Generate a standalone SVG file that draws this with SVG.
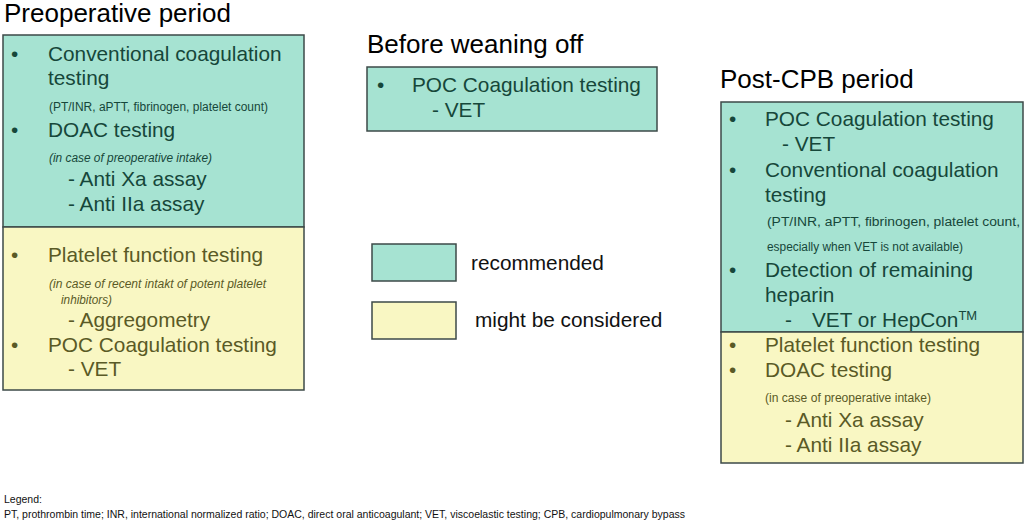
<svg xmlns="http://www.w3.org/2000/svg" width="1026" height="524" viewBox="0 0 1026 524">
<style>
text{font-family:"Liberation Sans",Arial,sans-serif}
.title{font-size:26px;fill:#000}
.rec{fill:#a6e3d2;stroke:#3d4a48;stroke-width:1.5}
.may{fill:#f9f7c3;stroke:#3d4a48;stroke-width:1.5}
.tg{font-size:20.8px;fill:#16473a}
.ty{font-size:20.8px;fill:#5a5a26}
.sg{font-size:12px;fill:#16473a}
.sy{font-size:12px;fill:#5a5a26}
.it{font-style:italic}
.leg{font-size:20.8px;fill:#111}
.foot{font-size:10.5px;fill:#111}
</style>
<rect width="1026" height="524" fill="#fff"/>
<g id="connectors"/>
<g id="preoperative">
<text class="title" x="4" y="22">Preoperative period</text>
<rect class="rec" x="3" y="35" width="301" height="192"/>
<rect class="may" x="3" y="227" width="301" height="163"/>
<text class="tg" x="11" y="61">•</text>
<text class="tg" x="48" y="61">Conventional coagulation</text>
<text class="tg" x="48" y="85">testing</text>
<text class="sg" x="49" y="111" textLength="219" lengthAdjust="spacingAndGlyphs">(PT/INR, aPTT, fibrinogen, platelet count)</text>
<text class="tg" x="11" y="137">•</text>
<text class="tg" x="48" y="137">DOAC testing</text>
<text class="sg it" x="49" y="162" textLength="163" lengthAdjust="spacingAndGlyphs">(in case of preoperative intake)</text>
<text class="tg" x="68" y="186">- Anti Xa assay</text>
<text class="tg" x="68" y="211">- Anti IIa assay</text>
<text class="ty" x="11" y="262">•</text>
<text class="ty" x="48" y="262">Platelet function testing</text>
<text class="sy it" x="49" y="288" textLength="217" lengthAdjust="spacingAndGlyphs">(in case of recent intakt of potent platelet</text>
<text class="sy it" x="61" y="304" textLength="51" lengthAdjust="spacingAndGlyphs">inhibitors)</text>
<text class="ty" x="68" y="327">- Aggregometry</text>
<text class="ty" x="11" y="352">•</text>
<text class="ty" x="48" y="352">POC Coagulation testing</text>
<text class="ty" x="68" y="376">- VET</text>
</g>
<g id="before-weaning">
<text class="title" x="367" y="53">Before weaning off</text>
<rect class="rec" x="367" y="67" width="290" height="64"/>
<text class="tg" x="377" y="92">•</text>
<text class="tg" x="412" y="92">POC Coagulation testing</text>
<text class="tg" x="432" y="117">- VET</text>
</g>
<g id="legend-recommended">
<rect class="rec" x="372" y="244" width="84" height="37"/>
<text class="leg" x="471" y="270">recommended</text>
</g>
<g id="legend-considered">
<rect class="may" x="372" y="302" width="84" height="37"/>
<text class="leg" x="475" y="327">might be considered</text>
</g>
<g id="post-cpb">
<text class="title" x="720" y="88">Post-CPB period</text>
<rect class="rec" x="721" y="102" width="302" height="230"/>
<rect class="may" x="721" y="332" width="302" height="131"/>
<text class="tg" x="729" y="126">•</text>
<text class="tg" x="765" y="126">POC Coagulation testing</text>
<text class="tg" x="782" y="151">- VET</text>
<text class="tg" x="729" y="177">•</text>
<text class="tg" x="765" y="177">Conventional coagulation</text>
<text class="tg" x="765" y="202">testing</text>
<text class="sg" x="767" y="226" textLength="253" lengthAdjust="spacingAndGlyphs">(PT/INR, aPTT, fibrinogen, platelet count,</text>
<text class="sg" x="767" y="251" textLength="196" lengthAdjust="spacingAndGlyphs">especially when VET is not available)</text>
<text class="tg" x="729" y="277">•</text>
<text class="tg" x="765" y="277">Detection of remaining</text>
<text class="tg" x="765" y="302">heparin</text>
<text class="tg" x="785" y="327">-</text>
<text class="tg" x="812" y="327">VET or HepCon<tspan font-size="13" dy="-7">TM</tspan></text>
<text class="ty" x="729" y="352">•</text>
<text class="ty" x="765" y="352">Platelet function testing</text>
<text class="ty" x="729" y="377">•</text>
<text class="ty" x="765" y="377">DOAC testing</text>
<text class="sy" x="765" y="402" textLength="166" lengthAdjust="spacingAndGlyphs">(in case of preoperative intake)</text>
<text class="ty" x="785" y="427">- Anti Xa assay</text>
<text class="ty" x="785" y="452">- Anti IIa assay</text>
</g>
<g id="footnote">
<text class="foot" x="4" y="503">Legend:</text>
<text class="foot" x="4" y="518" textLength="681" lengthAdjust="spacingAndGlyphs">PT, prothrombin time; INR, international normalized ratio; DOAC, direct oral anticoagulant; VET, viscoelastic testing; CPB, cardiopulmonary bypass</text>
</g>
</svg>
